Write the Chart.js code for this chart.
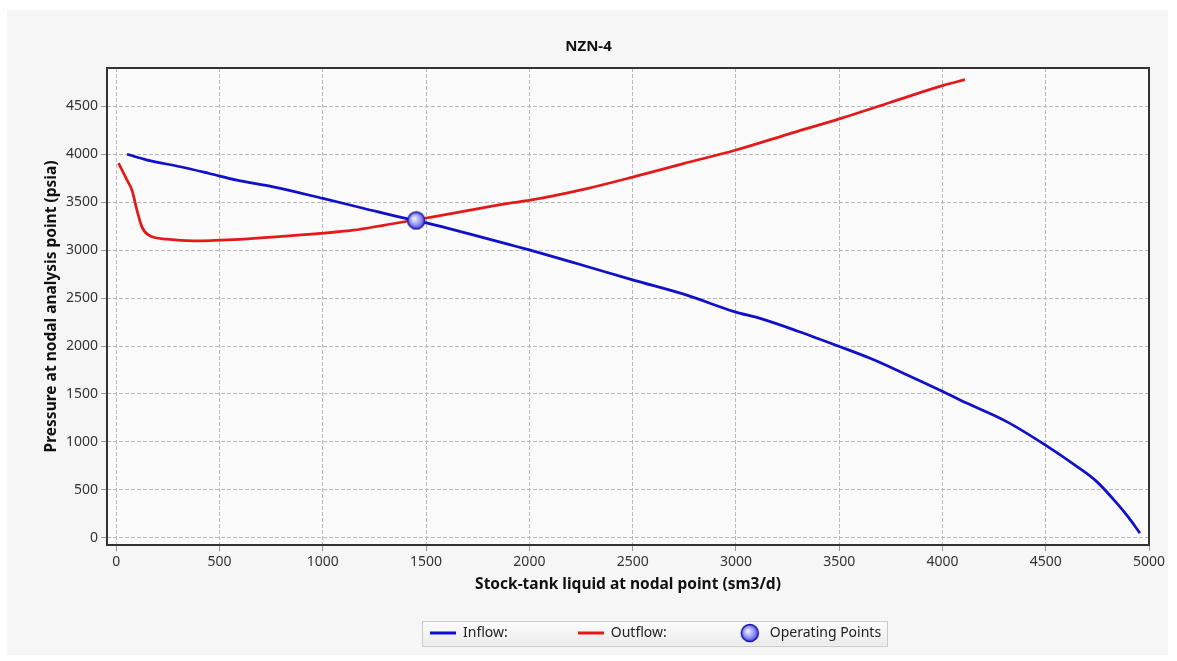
<!DOCTYPE html>
<html>
<head>
<meta charset="utf-8">
<script src="https://cdn.jsdelivr.net/npm/chart.js@4.4.0/dist/chart.umd.min.js"></script>
<style>
  html, body { margin: 0; padding: 0; background: #fff; }
  #panel { position: absolute; left: 7px; top: 10px; width: 1161px; height: 645px; background: #f6f6f6; }
  #wrap { position: absolute; left: 0; top: 0; width: 1177px; height: 661px; }
</style>
</head>
<body>
<div id="panel"></div>
<div id="wrap"><canvas id="nodal" width="1177" height="661"></canvas></div>
<script>
// Inflow (IPR) curve
const inflowRate = [52, 150, 310, 450, 584, 760, 1000, 1200, 1438, 1520, 1700, 1900, 2004, 2250, 2504, 2762, 2996, 3117, 3300, 3504, 3650, 3800, 4004, 4085, 4311, 4497, 4650, 4747, 4844, 4900, 4956];
const inflowPressure = [4000, 3940, 3870, 3800, 3730, 3660, 3540, 3435, 3312, 3275, 3175, 3060, 3000, 2848, 2688, 2531, 2357, 2288, 2155, 1993, 1872, 1728, 1524, 1437, 1212, 969, 745, 586, 361, 215, 49];

// Outflow (VLP) curve
const outflowRate = [11, 52, 76, 100, 124, 157, 245, 374, 567, 800, 987, 1148, 1300, 1438, 1520, 1700, 1891, 2004, 2278, 2504, 2746, 2996, 3250, 3504, 3750, 4004, 4109];
const outflowPressure = [3909, 3730, 3625, 3417, 3243, 3156, 3115, 3097, 3111, 3145, 3174, 3208, 3262, 3312, 3343, 3412, 3486, 3521, 3642, 3764, 3903, 4042, 4208, 4372, 4543, 4719, 4778];

// Operating point (intersection)
const opRate = [1452];
const opPressure = [3310];

// axis tick labels
const rateTicks = [0, 500, 1000, 1500, 2000, 2500, 3000, 3500, 4000, 4500, 5000];
const pressureTicks = [0, 500, 1000, 1500, 2000, 2500, 3000, 3500, 4000, 4500];

const FONT = "'Noto Sans', 'Open Sans', sans-serif";
const LEGEND_X = 430;
const LEGEND_Y = 633;

function toPoints(xs, ys) {
	return xs.map((x, i) => ({x, y: ys[i]}));
}

function lineIcon(color) {
	const c = document.createElement('canvas');
	c.width = 26;
	c.height = 4;
	const g = c.getContext('2d');
	g.fillStyle = color;
	g.fillRect(0, 0.5, 26, 3);
	return c;
}

function pointIcon() {
	const c = document.createElement('canvas');
	c.width = 20;
	c.height = 20;
	const g = c.getContext('2d');
	const grad = g.createRadialGradient(8, 8, 1, 10, 10, 9);
	grad.addColorStop(0, '#e8e8ff');
	grad.addColorStop(0.6, '#8e8ef2');
	grad.addColorStop(1, '#3535da');
	g.fillStyle = grad;
	g.beginPath();
	g.arc(10, 10, 8.5, 0, Math.PI * 2);
	g.fill();
	g.lineWidth = 1.5;
	g.strokeStyle = '#1a1aa8';
	g.stroke();
	return c;
}

const pointMarker = pointIcon();
const legendIcons = [lineIcon('#1010cc'), lineIcon('#e41a1a'), pointMarker];

const chartDecor = {
	id: 'chartDecor',
	beforeDraw(chart) {
		const {ctx, chartArea: a, legend} = chart;
		ctx.save();
		ctx.fillStyle = '#fbfbfb';
		ctx.fillRect(a.left, a.top, a.right - a.left, a.bottom - a.top);

		// move legend row to where the reference has it
		const pad = legend.options.labels.padding;
		legend.left = LEGEND_X - pad;
		legend.right = chart.width;
		legend.top = LEGEND_Y - 7 - pad;
		legend.bottom = LEGEND_Y + 20;
		legend.width = legend.right - legend.left;
		legend.height = legend.bottom - legend.top;

		const x0 = LEGEND_X - 8;
		const x1 = LEGEND_X + legend.lineWidths[0] - pad + 6;
		const grad = ctx.createLinearGradient(0, LEGEND_Y - 12, 0, LEGEND_Y + 12);
		grad.addColorStop(0, '#fdfdfd');
		grad.addColorStop(1, '#ebebeb');
		ctx.fillStyle = grad;
		ctx.fillRect(x0, LEGEND_Y - 12.5, x1 - x0, 25);
		ctx.strokeStyle = '#c9c9c9';
		ctx.lineWidth = 1;
		ctx.strokeRect(Math.round(x0) + 0.5, Math.round(LEGEND_Y - 12.5) + 0.5, Math.round(x1 - x0), 25);
		ctx.restore();
	},
	afterDraw(chart) {
		const {ctx, chartArea: a} = chart;
		ctx.save();
		ctx.strokeStyle = '#333';
		ctx.lineWidth = 2;
		ctx.strokeRect(a.left, a.top, a.right - a.left, a.bottom - a.top);
		ctx.restore();
	},
};

Chart.defaults.font.family = FONT;

new Chart(document.getElementById('nodal'), {
	type: 'line',
	data: {
		datasets: [
			{
				label: 'Inflow:',
				data: toPoints(inflowRate, inflowPressure),
				borderColor: '#1010cc',
				borderWidth: 2.75,
				pointRadius: 0,
				cubicInterpolationMode: 'monotone',
				order: 1,
			},
			{
				label: 'Outflow:',
				data: toPoints(outflowRate, outflowPressure),
				borderColor: '#e41a1a',
				borderWidth: 2.75,
				pointRadius: 0,
				cubicInterpolationMode: 'monotone',
				order: 0,
			},
			{
				label: 'Operating Points',
				data: toPoints(opRate, opPressure),
				showLine: false,
				pointStyle: pointMarker,
				pointRadius: 9,
				order: -1,
			},
		],
	},
	options: {
		responsive: false,
		animation: false,
		layout: {padding: {left: 28, right: 28, top: 0, bottom: 10}},
		plugins: {
			title: {
				display: true,
				text: 'NZN-4',
				color: '#111',
				font: {size: 15, weight: 'bold'},
				padding: {top: 38, bottom: 12},
			},
			legend: {
				position: 'bottom',
				align: 'start',
				maxHeight: 56,
				labels: {
					usePointStyle: true,
					pointStyleWidth: 26,
					padding: 70,
					color: '#222',
					font: {size: 14},
					sort: (a, b) => a.datasetIndex - b.datasetIndex,
					generateLabels: chart => {
						const items = Chart.defaults.plugins.legend.labels.generateLabels(chart);
						items.forEach(it => { it.pointStyle = legendIcons[it.datasetIndex]; });
						return items;
					},
				},
			},
			tooltip: {enabled: false},
		},
		scales: {
			x: {
				type: 'linear',
				min: -45,
				max: 5000,
				afterFit: s => { s.height = 50; },
				afterBuildTicks: s => { s.ticks = rateTicks.map(value => ({value})); },
				ticks: {autoSkip: false, maxRotation: 0, color: '#333', font: {size: 14}, padding: 3, callback: v => String(v)},
				grid: {color: '#b9b9b9', lineWidth: 1, tickLength: 6, tickColor: '#999', tickBorderDash: []},
				border: {display: false, dash: [4, 2]},
				title: {display: true, text: 'Stock-tank liquid at nodal point (sm3/d)', color: '#111', font: {size: 15.5, weight: 'bold'}, padding: {top: 0, bottom: 1}},
			},
			y: {
				type: 'linear',
				min: -75,
				max: 4900,
				afterFit: s => { s.width = 79; },
				afterBuildTicks: s => { s.ticks = pressureTicks.map(value => ({value})); },
				ticks: {autoSkip: false, color: '#333', font: {size: 14}, padding: 3, callback: v => String(v)},
				grid: {color: '#b9b9b9', lineWidth: 1, tickLength: 6, tickColor: '#999', tickBorderDash: []},
				border: {display: false, dash: [4, 2]},
				title: {display: true, text: 'Pressure at nodal analysis point (psia)', color: '#111', font: {size: 15.5, weight: 'bold'}, padding: {top: 14, bottom: 0}},
			},
		},
	},
	plugins: [chartDecor],
});
</script>
</body>
</html>
